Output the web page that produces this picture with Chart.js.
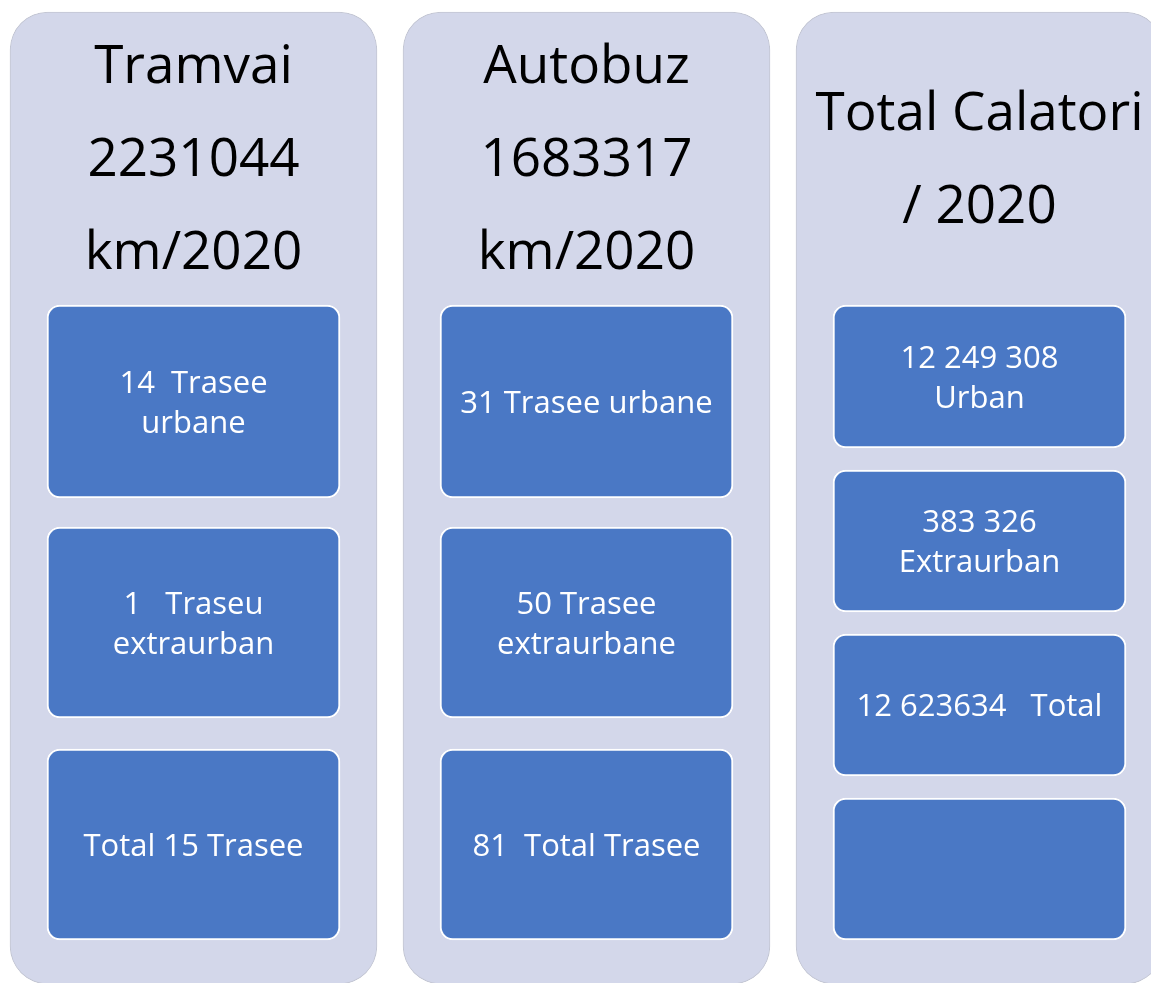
<!DOCTYPE html>
<html>
<head>
<meta charset="utf-8">
<script src="https://cdn.jsdelivr.net/npm/chart.js@4.4.1/dist/chart.umd.min.js"></script>
<style>
  html, body { margin: 0; padding: 0; background: #fff; overflow: hidden; }
  #chart { display: block; }
</style>
</head>
<body>
<canvas id="chart" width="1151" height="983"></canvas>
<script>
// columns of the diagram (x = 0, 1, 2)
const columns = ['Tramvai', 'Autobuz', 'Total Calatori'];

// header lines per column
const titles = [
  ['Tramvai', '2231044', 'km/2020'],
  ['Autobuz', '1683317', 'km/2020'],
  ['Total Calatori', '/ 2020']
];

// vertical extent of the background panels and of each box row (top, bottom)
const panelSpan = [[12, 984], [12, 984], [12, 984]];
const row1 = [[305, 498], [305, 498], [305, 448]];
const row2 = [[527, 718], [527, 718], [470, 612]];
const row3 = [[749, 940], [749, 940], [634, 776]];
const row4 = [null, null, [798, 940]];

// text inside the boxes, one entry per column
const row1Text = [['14  Trasee', 'urbane'], ['31 Trasee urbane'], ['12 249 308', 'Urban']];
const row2Text = [['1   Traseu', 'extraurban'], ['50 Trasee', 'extraurbane'], ['383 326', 'Extraurban']];
const row3Text = [['Total 15 Trasee'], ['81  Total Trasee'], ['12 623634   Total']];
const row4Text = [[], [], []];

const rows = [row1, row2, row3, row4];
const rowTexts = [row1Text, row2Text, row3Text, row4Text];

const FONT = '"Open Sans", sans-serif';

function toPoints(arr) {
  return arr.map((v, i) => (v ? { x: i, y: v } : null)).filter(Boolean);
}

const boxDatasets = rows.map((r, k) => ({
  label: 'row' + (k + 1),
  data: toPoints(r),
  backgroundColor: '#4A78C5',
  borderColor: '#ffffff',
  borderWidth: 2,
  borderRadius: 13,
  borderSkipped: false,
  barThickness: 293,
  grouped: false,
  order: 1
}));

const panelDataset = {
  label: 'panels',
  data: toPoints(panelSpan),
  backgroundColor: '#D3D7EA',
  borderColor: '#C3C6D3',
  borderWidth: 1,
  borderRadius: 38,
  borderSkipped: false,
  barThickness: 367,
  grouped: false,
  order: 2
};

// writes the headers and box captions on top of the bars
const textPlugin = {
  id: 'boxText',
  afterDatasetsDraw(chart) {
    const ctx = chart.ctx;
    ctx.save();
    ctx.textAlign = 'center';
    ctx.textBaseline = 'alphabetic';

    // headers
    const panels = chart.getDatasetMeta(rows.length).data;
    ctx.font = '53px ' + FONT;
    ctx.fillStyle = '#000000';
    panels.forEach((bar, i) => {
      const top = Math.min(bar.y, bar.base);
      const lines = titles[i];
      lines.forEach((t, j) => {
        ctx.fillText(t, bar.x, top + 164 + (j - (lines.length - 1) / 2) * 93);
      });
    });

    // captions
    ctx.font = '31px ' + FONT;
    ctx.fillStyle = '#ffffff';
    rows.forEach((r, k) => {
      const meta = chart.getDatasetMeta(k);
      meta.data.forEach((bar, n) => {
        const col = meta._parsed[n].x;
        const lines = rowTexts[k][col] || [];
        const cy = (bar.y + bar.base) / 2;
        lines.forEach((t, j) => {
          ctx.fillText(t, bar.x, cy + (j - (lines.length - 1) / 2) * 40 + 11);
        });
      });
    });
    ctx.restore();
  }
};

new Chart(document.getElementById('chart').getContext('2d'), {
  type: 'bar',
  data: {
    labels: columns,
    datasets: [...boxDatasets, panelDataset]
  },
  options: {
    responsive: false,
    devicePixelRatio: 1,
    animation: false,
    layout: { padding: 0 },
    scales: {
      x: { type: 'linear', min: -193.5 / 393, max: (1151 - 193.5) / 393, offset: false, display: false },
      y: { type: 'linear', min: 0, max: 983, reverse: true, display: false }
    },
    plugins: {
      legend: { display: false },
      tooltip: { enabled: false }
    }
  },
  plugins: [textPlugin]
});
</script>
</body>
</html>
